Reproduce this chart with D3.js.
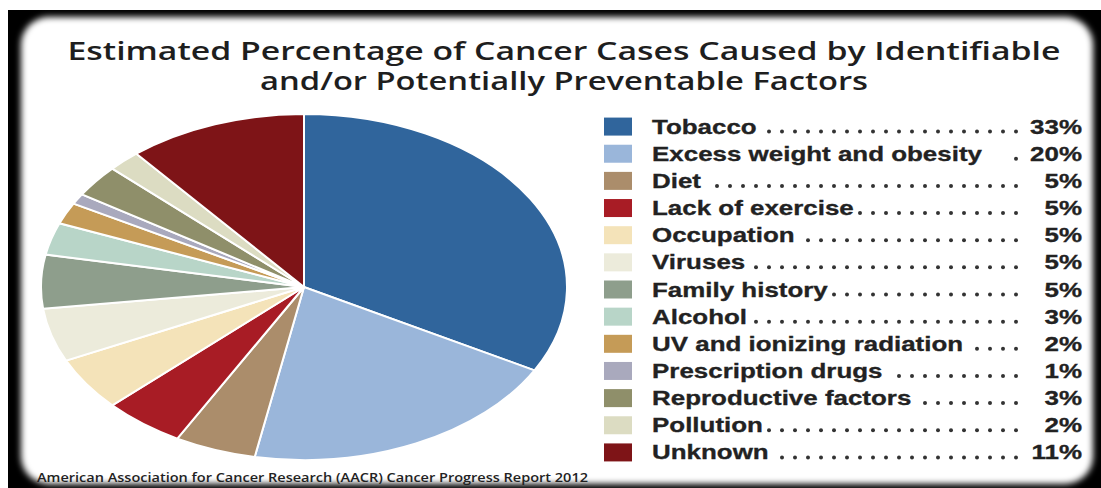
<!DOCTYPE html>
<html>
<head>
<meta charset="utf-8">
<script src="https://cdn.jsdelivr.net/npm/d3@7"></script>
<style>
  body { margin: 0; background: #fff; }
  svg { display: block; }
</style>
</head>
<body>
<svg id="chart" width="1101" height="488"></svg>
<script>
// data
let categories = ['Tobacco', 'Excess weight and obesity', 'Diet', 'Lack of exercise', 'Occupation',
  'Viruses', 'Family history', 'Alcohol', 'UV and ionizing radiation', 'Prescription drugs',
  'Reproductive factors', 'Pollution', 'Unknown'];
let values = [33, 20, 5, 5, 5, 5, 5, 3, 2, 1, 3, 2, 11];
let pctLabels = values.map(v => v + '%');
let colors = ['#30659c', '#9ab6da', '#ab8d6b', '#a81c25', '#f4e3b9', '#ecebdb', '#8e9e8c',
  '#b8d5c8', '#c59b57', '#a9a9bd', '#8f8f6a', '#dcdcc2', '#7e1417'];

let svg = d3.select('#chart');
let W = 1101, H = 488;

// frame: black band + white rounded card with soft edge
let defs = svg.append('defs');
defs.append('filter').attr('id', 'soft')
    .attr('x', '-5%').attr('y', '-5%').attr('width', '110%').attr('height', '110%')
  .append('feGaussianBlur').attr('stdDeviation', 3);

svg.append('rect')
    .attr('x', 8).attr('y', 10)
    .attr('width', W - 8).attr('height', H - 10)
    .attr('fill', '#000');
svg.append('rect')
    .attr('x', 21).attr('y', 17)
    .attr('width', 1072).attr('height', 467)
    .attr('rx', 28).attr('ry', 28)
    .attr('fill', '#fff')
    .attr('filter', 'url(#soft)');

// title, two lines in one text block
let title = ['Estimated Percentage of Cancer Cases Caused by Identifiable',
  'and/or Potentially Preventable Factors'];
let titleWidths = [993, 608];
svg.append('text')
    .attr('text-anchor', 'middle')
    .style('font-family', '"Open Sans", sans-serif')
    .style('font-weight', 600)
    .style('font-size', '25px')
    .attr('fill', '#1e1e1e')
  .selectAll('tspan')
    .data(title)
  .enter().append('tspan')
    .attr('x', 564)
    .attr('y', (d, i) => 60 + i * 30)
    .attr('textLength', (d, i) => titleWidths[i])
    .attr('lengthAdjust', 'spacingAndGlyphs')
    .text(d => d);

// pie (stretched into an ellipse like the original)
let cx = 304, cy = 287, ry = 173, rx = 263;
let pie = d3.pie().sort(null).value(d => d);
let arc = d3.arc().innerRadius(0).outerRadius(ry);

svg.append('g')
    .attr('transform', 'translate(' + cx + ',' + cy + ') scale(' + (rx / ry) + ',1)')
  .selectAll('path')
    .data(pie(values))
  .enter().append('path')
    .attr('d', arc)
    .attr('fill', (d, i) => colors[i])
    .attr('stroke', '#fff')
    .attr('stroke-width', 2)
    .attr('vector-effect', 'non-scaling-stroke');

// legend
let y = d3.scaleBand()
    .domain(categories)
    .range([113, 466]);

let stretch = 1.33;
let labelX = 652, pctRight = 1082, dotEnd = 1016, dotStep = 13;

let row = svg.append('g').selectAll('g')
    .data(categories)
  .enter().append('g')
    .attr('transform', d => 'translate(0,' + (y(d) + y.bandwidth() / 2) + ')');

row.append('rect')
    .attr('x', 604).attr('y', -9)
    .attr('width', 28).attr('height', 18)
    .attr('fill', (d, i) => colors[i]);

let font = s => s.style('font-family', '"Liberation Sans", Arial, sans-serif')
    .style('font-weight', 700)
    .style('font-size', '19.5px')
    .attr('fill', '#222')
    .attr('stroke', '#222')
    .attr('stroke-width', 0.3);

row.append('text')
    .attr('class', 'lab')
    .attr('transform', 'translate(' + labelX + ',7) scale(' + stretch + ',1)')
    .call(font)
    .text(d => d);

row.append('text')
    .attr('transform', 'translate(' + pctRight + ',7) scale(' + stretch + ',1)')
    .attr('text-anchor', 'end')
    .call(font)
    .text((d, i) => pctLabels[i]);

// dotted leaders, aligned to the right
row.each(function(d) {
  let g = d3.select(this);
  let end = labelX + g.select('.lab').node().getComputedTextLength() * stretch;
  let xs = [];
  for (let x = dotEnd; x > end + 4; x -= dotStep) xs.push(x);
  // the original has a single dot after this long label
  if (d === 'Excess weight and obesity') xs = xs.slice(0, 1);
  g.selectAll('circle')
      .data(xs)
    .enter().append('circle')
      .attr('cx', x => x)
      .attr('cy', 5)
      .attr('r', 2)
      .attr('fill', '#333');
});

// source note
svg.append('text')
    .attr('x', 37).attr('y', 482)
    .attr('textLength', 551)
    .attr('lengthAdjust', 'spacingAndGlyphs')
    .style('font-family', '"Open Sans", sans-serif')
    .style('font-weight', 600)
    .style('font-size', '13px')
    .attr('fill', '#222')
    .text('American Association for Cancer Research (AACR) Cancer Progress Report 2012');
</script>
</body>
</html>
